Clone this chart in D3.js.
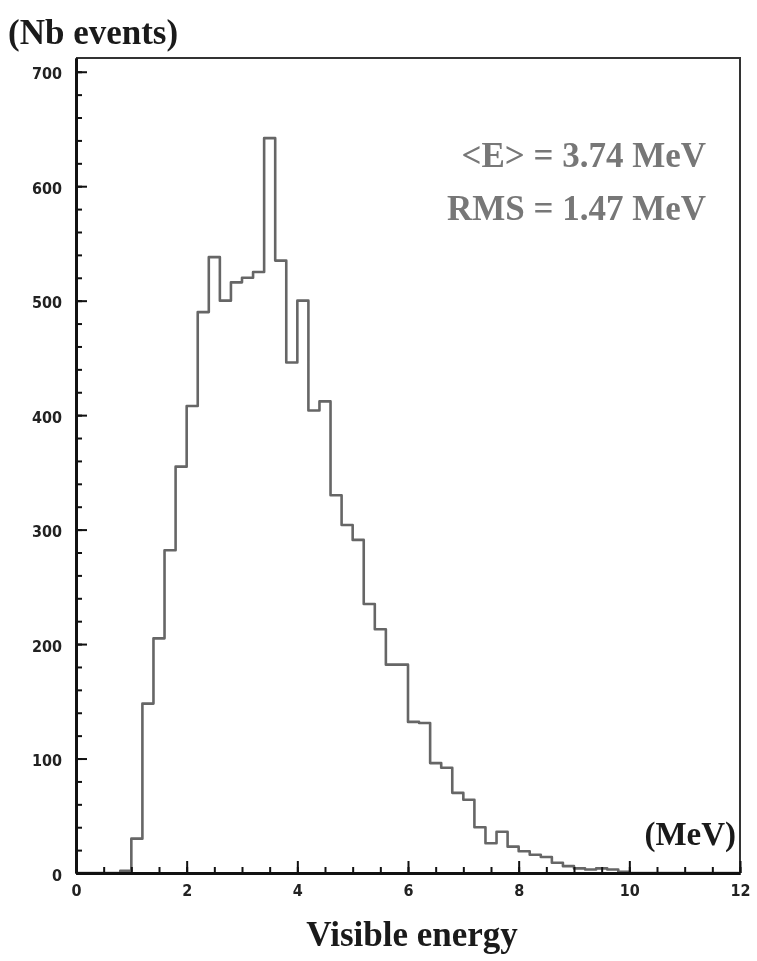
<!DOCTYPE html>
<html>
<head>
<meta charset="utf-8">
<script src="https://cdn.jsdelivr.net/npm/d3@7"></script>
<style>
  body { margin: 0; background: #fff; }
  svg { display: block; }
</style>
</head>
<body>
<svg id="chart"></svg>
<script>
const width = 757;
const height = 961;

// lower edge of each 0.2 MeV bin
const binLow = [
  0.0, 0.2, 0.4, 0.6, 0.8, 1.0, 1.2, 1.4, 1.6, 1.8,
  2.0, 2.2, 2.4, 2.6, 2.8, 3.0, 3.2, 3.4, 3.6, 3.8,
  4.0, 4.2, 4.4, 4.6, 4.8, 5.0, 5.2, 5.4, 5.6, 5.8,
  6.0, 6.2, 6.4, 6.6, 6.8, 7.0, 7.2, 7.4, 7.6, 7.8,
  8.0, 8.2, 8.4, 8.6, 8.8, 9.0, 9.2, 9.4, 9.6, 9.8,
  10.0, 10.2, 10.4, 10.6, 10.8, 11.0, 11.2, 11.4, 11.6, 11.8
];
const counts = [
  0, 0, 0, 0, 2, 30, 148, 205, 282, 355,
  408, 490, 538, 500, 516, 520, 525, 642, 535, 446,
  500, 404, 412, 330, 304, 291, 235, 213, 182, 182,
  132, 131, 96, 92, 70, 64, 40, 26, 36, 23,
  19, 16, 14, 9, 6, 4, 3, 4, 3, 1,
  0, 0, 0, 0, 0, 0, 0, 0, 0, 0
];
const binWidth = 0.2;

const xMajor = [0, 2, 4, 6, 8, 10, 12];
const yMajor = [0, 100, 200, 300, 400, 500, 600, 700];

const statLines = ["<E> = 3.74 MeV", "RMS = 1.47 MeV"];

const plot = {left: 76, right: 740, top: 58, bottom: 873};

const svg = d3.select("#chart")
  .attr("width", width)
  .attr("height", height)
  .style("filter", "blur(0.6px)");

const x = d3.scaleLinear().domain([0, 12]).range([plot.left, plot.right]);
const y = d3.scaleLinear().domain([0, 712]).range([plot.bottom, plot.top]);

// frame (top and right sides)
svg.append("path")
  .attr("d", `M${plot.left},${plot.top}H${plot.right}V${plot.bottom}`)
  .attr("fill", "none")
  .attr("stroke", "#333")
  .attr("stroke-width", 2);

// histogram outline
const pts = [];
binLow.forEach((lo, i) => {
  pts.push([x(lo), y(counts[i])]);
  pts.push([x(lo + binWidth), y(counts[i])]);
});
svg.append("path")
  .attr("d", d3.line()([[x(0), y(0)], ...pts, [x(12), y(0)]]))
  .attr("fill", "none")
  .attr("stroke", "#666")
  .attr("stroke-width", 2.6)
  .attr("stroke-linejoin", "round");

const tickFont = "'Liberation Sans Narrow', 'Arial Narrow', 'DejaVu Sans Condensed', sans-serif";

// y axis
const yMinor = svg.append("g")
  .attr("transform", `translate(${plot.left},0)`)
  .call(d3.axisRight(y).tickValues(d3.range(0, 701, 20)).tickSize(6).tickFormat("").tickSizeOuter(0));
const yAxis = svg.append("g")
  .attr("transform", `translate(${plot.left},0)`)
  .call(d3.axisLeft(y).tickValues(yMajor).tickSize(0).tickPadding(14).tickSizeOuter(0));
svg.append("g")
  .attr("transform", `translate(${plot.left},0)`)
  .call(d3.axisRight(y).tickValues(yMajor).tickSize(11).tickFormat("").tickSizeOuter(0))
  .call(g => g.select(".domain").remove());

// x axis
const xMinor = svg.append("g")
  .attr("transform", `translate(0,${plot.bottom})`)
  .call(d3.axisTop(x).tickValues(d3.range(0, 12.01, 0.5)).tickSize(6).tickFormat("").tickSizeOuter(0));
const xAxis = svg.append("g")
  .attr("transform", `translate(0,${plot.bottom})`)
  .call(d3.axisBottom(x).tickValues(xMajor).tickSize(0).tickPadding(12).tickSizeOuter(0));
svg.append("g")
  .attr("transform", `translate(0,${plot.bottom})`)
  .call(d3.axisTop(x).tickValues(xMajor).tickSize(12).tickFormat("").tickSizeOuter(0))
  .call(g => g.select(".domain").remove());

[yMinor, yAxis, xMinor, xAxis].forEach(g => {
  g.select(".domain").attr("stroke", "#111").attr("stroke-width", 2.8);
});
svg.selectAll(".tick line").attr("stroke", "#111").attr("stroke-width", 2);

[yAxis, xAxis].forEach(g => {
  g.selectAll("text")
    .attr("font-family", tickFont)
    .attr("font-weight", "bold")
    .attr("font-size", 16)
    .attr("fill", "#222");
});
yAxis.selectAll("text").attr("dy", "0.45em");

const serif = "'Liberation Serif', 'Times New Roman', 'DejaVu Serif', serif";

// axis titles
svg.append("text")
  .attr("x", 8).attr("y", 44)
  .attr("font-family", serif).attr("font-weight", "bold").attr("font-size", 35)
  .attr("fill", "#1a1a1a")
  .text("(Nb events)");

svg.append("text")
  .attr("x", 736).attr("y", 845)
  .attr("text-anchor", "end")
  .attr("font-family", serif).attr("font-weight", "bold").attr("font-size", 33)
  .attr("fill", "#1a1a1a")
  .text("(MeV)");

svg.append("text")
  .attr("x", 412).attr("y", 946)
  .attr("text-anchor", "middle")
  .attr("font-family", serif).attr("font-weight", "bold").attr("font-size", 35)
  .attr("fill", "#1a1a1a")
  .text("Visible energy");

// statistics box text
svg.append("g")
  .selectAll("text")
  .data(statLines)
  .join("text")
  .attr("x", 706)
  .attr("y", (d, i) => 167 + i * 53)
  .attr("text-anchor", "end")
  .attr("font-family", serif)
  .attr("font-weight", "bold")
  .attr("font-size", 35)
  .attr("fill", "#777")
  .text(d => d);
</script>
</body>
</html>
